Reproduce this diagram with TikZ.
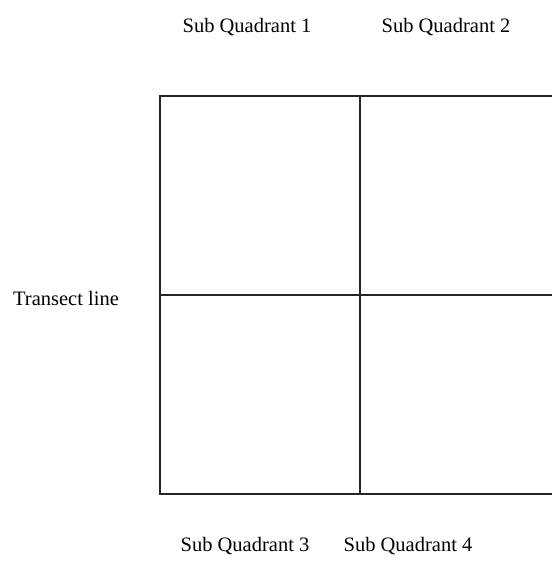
\documentclass[tikz,border=0pt]{standalone}
\usepackage{fontspec}
\setmainfont{Liberation Serif}
\usetikzlibrary{positioning}

\begin{document}
\begin{tikzpicture}[
  x=1pt, y=-1pt,
  label_text/.style={font=\fontsize{20.5}{24}\selectfont, inner sep=0pt},
  grid_line/.style={draw=black!85, line width=1.6pt}
]
  \useasboundingbox (0,0) rectangle (552,574);

  % corners of the quadrant
  \coordinate (tl) at (160,96);
  \coordinate (tm) at (360,96);
  \coordinate (tr) at (552,96);
  \coordinate (ml) at (160,295);
  \coordinate (mr) at (552,295);
  \coordinate (bl) at (160,494);
  \coordinate (bm) at (360,494);
  \coordinate (br) at (552,494);

  \draw[grid_line] (tr) -- (tl) -- (bl) -- (br);
  \draw[grid_line] (tm) -- (bm);
  \draw[grid_line] (ml) -- (mr);

  \node[label_text] (sq1) at (247,27) {Sub Quadrant 1};
  \node[label_text] (sq2) at (446,27) {Sub Quadrant 2};
  \node[label_text] (sq3) at (245,546) {Sub Quadrant 3};
  \node[label_text] (sq4) at (408,546) {Sub Quadrant 4};
  \node[label_text] (transect) at (66,298) {Transect line};
\end{tikzpicture}
\end{document}
